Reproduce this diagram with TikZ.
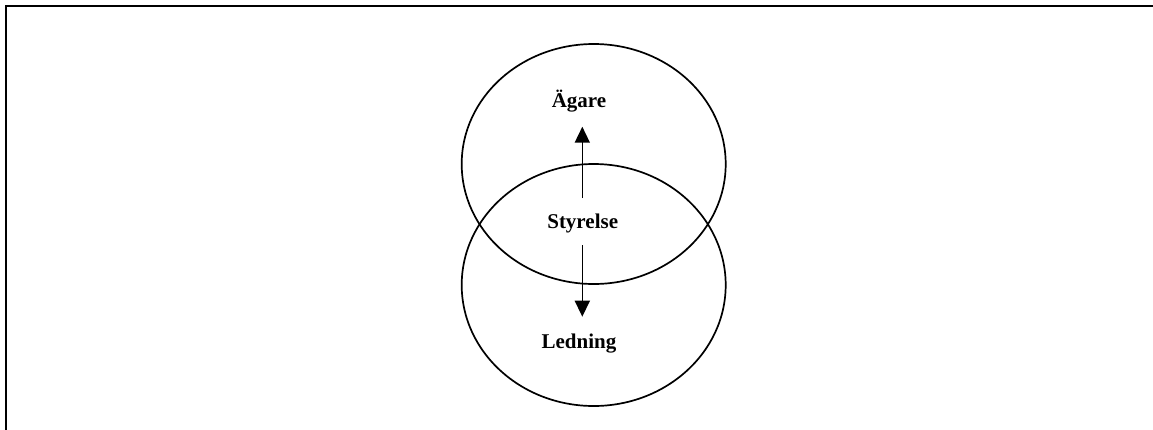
\documentclass[tikz,border=0pt]{standalone}
\usepackage{fontspec}
\setmainfont{Liberation Serif}
\usetikzlibrary{arrows.meta}
\begin{document}
\begin{tikzpicture}[x=1pt,y=-1pt,
  ring/.style={draw=black,line width=1.7pt},
  lbl/.style={font=\fontsize{21}{25}\selectfont\bfseries,inner sep=0pt},
  arr/.style={line width=1.6pt,-{Triangle[width=15pt,length=16pt]}},
  frame/.style={line width=2.2pt,line cap=rect}]
\useasboundingbox (0,0) rectangle (1153,429);
\fill[white] (0,0) rectangle (1153,429);
\coordinate (tl) at (6,6);
\coordinate (tr) at (1153,6);
\coordinate (bl) at (6,429);
\draw[frame] (tr) -- (tl) -- (bl);
\draw[ring] (593.7,164) ellipse [x radius=132, y radius=120];
\draw[ring] (593.7,285) ellipse [x radius=132, y radius=121];
\node[lbl] (agare) at (579,101) {Ägare};
\node[lbl] (styr) at (582.7,223) {Styrelse};
\node[lbl] (led) at (579,344) {Ledning};
\coordinate (a1) at (582.3,198);
\coordinate (a2) at (582.3,126.7);
\coordinate (b1) at (582.3,245);
\coordinate (b2) at (582.3,316.7);
\draw[arr] (a1) -- (a2);
\draw[arr] (b1) -- (b2);
\end{tikzpicture}
\end{document}
